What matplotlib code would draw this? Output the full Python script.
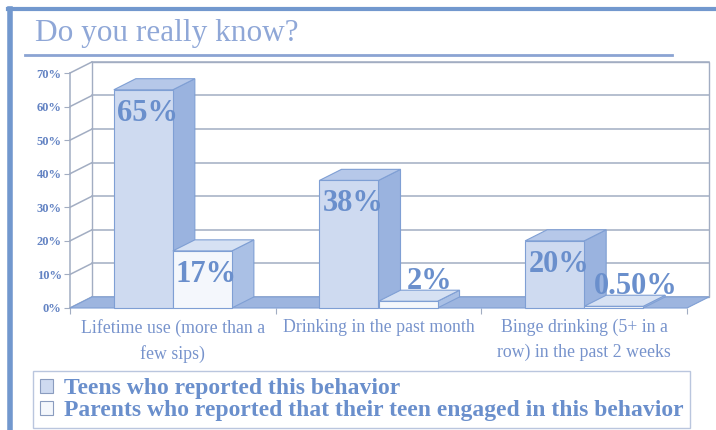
import matplotlib
matplotlib.use("Agg")
import matplotlib.pyplot as plt
from matplotlib.patches import Polygon, Rectangle, Patch
from matplotlib.lines import Line2D

plt.rcParams["font.family"] = "serif"
plt.rcParams["font.serif"] = ["Liberation Serif", "DejaVu Serif"]

# data
categories = ["Lifetime use (more than a\nfew sips)",
              "Drinking in the past month",
              "Binge drinking (5+ in a\nrow) in the past 2 weeks"]
teens = [65, 38, 20]
parents = [17, 2, 0.5]
teens_labels = ["65%", "38%", "20%"]
parents_labels = ["17%", "2%", "0.50%"]
series_names = ["Teens who reported this behavior",
                "Parents who reported that their teen engaged in this behavior"]
yticks = [0, 10, 20, 30, 40, 50, 60, 70]

W, H = 716, 430
fig = plt.figure(figsize=(W / 100, H / 100), dpi=100)
fig.patch.set_facecolor("white")

# colours
frame_blue = "#7298ce"
grid_col = "#a2adc2"
edge_col = "#7f9fd4"
text_blue = "#6a8fcc"
tick_blue = "#6383c3"
teen_faces = ("#cedaf0", "#b6c8e9", "#9ab3df")      # front, top, side
parent_faces = ("#f4f7fc", "#d6e1f3", "#aac0e5")
floor_col = "#9db5df"

# page decoration: top rule, left rule, title and its underline
fig.add_artist(Line2D([8 / W, 1], [1 - 9 / H] * 2, color=frame_blue, lw=3))
fig.add_artist(Line2D([10 / W] * 2, [0, 1 - 9 / H], color=frame_blue, lw=4))
fig.text(35 / W, 1 - 33 / H, "Do you really know?", fontsize=22.5,
         color="#8fa7d7", va="center", ha="left")
fig.add_artist(Line2D([25 / W, 672 / W], [1 - 55 / H] * 2, color="#8ba4d3", lw=2))

# plot area = front plane of the 3D box
ax = fig.add_axes([70 / W, (H - 308) / H, (687 - 70) / W, (308 - 73) / H])
ax.set_xlim(-0.5, 2.5)
ax.set_ylim(0, 70)
for s in ax.spines.values():
    s.set_visible(False)
ax.set_facecolor("none")

dx, dy = 0.107, 3.3   # depth offset in data units
x0, x1 = -0.5, 2.5

# back wall and gridlines
ax.add_patch(Rectangle((x0 + dx, dy), x1 - x0, 70, fc="white", ec=grid_col,
                       lw=1, clip_on=False, zorder=1))
for t in yticks:
    ax.plot([x0 + dx, x1 + dx], [t + dy] * 2, color=grid_col, lw=1.1,
            clip_on=False, zorder=2)
    ax.plot([x0, x0 + dx], [t, t + dy], color=grid_col, lw=1.1,
            clip_on=False, zorder=2)
ax.plot([x0, x0], [0, 70], color=grid_col, lw=1.1, clip_on=False, zorder=2)

# floor
ax.add_patch(Polygon([(x0, 0), (x1, 0), (x1 + dx, dy), (x0 + dx, dy)],
                     closed=True, fc=floor_col, ec=edge_col, lw=0.8,
                     clip_on=False, zorder=3))


def bar3d(left, width, h, faces):
    front, top, side = faces
    ax.add_patch(Polygon([(left + width, 0), (left + width + dx, dy),
                          (left + width + dx, h + dy), (left + width, h)],
                         closed=True, fc=side, ec=edge_col, lw=0.8,
                         clip_on=False, zorder=4))
    ax.add_patch(Polygon([(left, h), (left + width, h),
                          (left + width + dx, h + dy), (left + dx, h + dy)],
                         closed=True, fc=top, ec=edge_col, lw=0.8,
                         clip_on=False, zorder=4))
    ax.add_patch(Rectangle((left, 0), width, h, fc=front, ec=edge_col,
                           lw=0.8, clip_on=False, zorder=4))


bw = 0.287
for i in range(len(categories)):
    bar3d(i - bw, bw, teens[i], teen_faces)
    bar3d(i, bw, parents[i], parent_faces)

# value labels
label_font = dict(fontsize=22, fontweight="bold", color=text_blue,
                  ha="center", va="center", zorder=6, clip_on=False)
for i in range(len(categories)):
    for left, v, lab in [(i - bw, teens[i], teens_labels[i]),
                         (i, parents[i], parents_labels[i])]:
        if v >= 10:
            ax.text(left + bw / 2 + 0.02, v - 7, lab, **label_font)
        else:
            ax.text(left + bw / 2 + dx, v + 6, lab, **label_font)

# axes ticks and labels
ax.set_yticks(yticks)
ax.set_yticklabels([f"{t}%" for t in yticks], fontweight="bold")
ax.tick_params(axis="y", length=4, width=0.8, color=grid_col, labelsize=9,
               labelcolor=tick_blue, pad=2)
ax.set_xticks([0, 1, 2])
ax.set_xticklabels(categories, linespacing=1.55)
ax.set_xticks([-0.5, 0.5, 1.5, 2.5], minor=True)
ax.tick_params(axis="x", which="major", length=0, labelsize=12.8,
               labelcolor="#7793cc", pad=8)
ax.tick_params(axis="x", which="minor", length=4, width=0.8, color=grid_col)

# legend
handles = [Patch(fc=teen_faces[0], ec="#8a9cbf", lw=0.8),
           Patch(fc=parent_faces[0], ec="#8a9cbf", lw=0.8)]
leg = fig.legend(handles, series_names, loc="upper left",
                 bbox_to_anchor=(33 / W, 1 - 371 / H), borderaxespad=0,
                 frameon=True, fancybox=False, edgecolor="#a9b8d6",
                 handlelength=0.55, handleheight=0.55, handletextpad=0.45,
                 labelspacing=0.05, borderpad=0.3,
                 prop=dict(size=17, weight="bold"))
leg.get_frame().set_linewidth(1)
for t in leg.get_texts():
    t.set_color(text_blue)

fig.savefig("out.png", dpi=100, facecolor="white")
